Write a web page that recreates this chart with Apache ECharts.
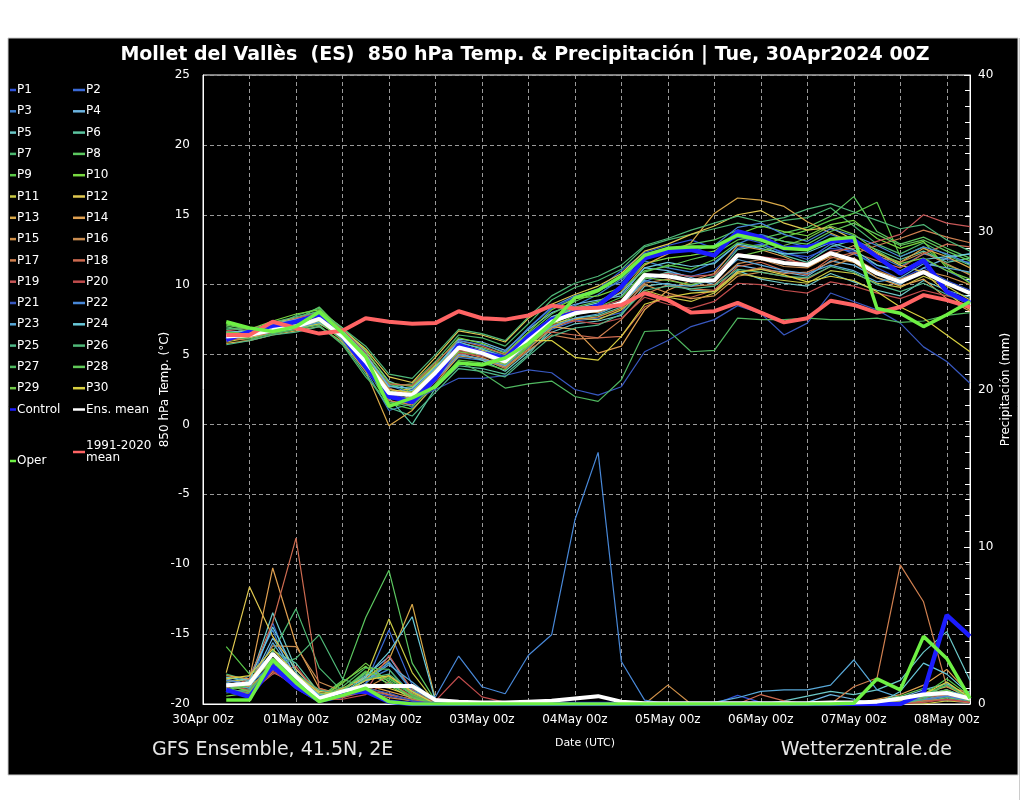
<!DOCTYPE html>
<html><head><meta charset="utf-8">
<script src="https://cdn.jsdelivr.net/npm/echarts@6/dist/echarts.min.js"></script>
<style>html,body{margin:0;padding:0;background:#fff;}#c{width:1024px;height:800px;}</style>
</head><body><div id="c"></div>
<script>
// ---- categories (6-hourly, 30Apr 00z .. 08May 06z) ----
const times = ['30Apr 00z','30Apr 06z','30Apr 12z','30Apr 18z',
 '01May 00z','01May 06z','01May 12z','01May 18z',
 '02May 00z','02May 06z','02May 12z','02May 18z',
 '03May 00z','03May 06z','03May 12z','03May 18z',
 '04May 00z','04May 06z','04May 12z','04May 18z',
 '05May 00z','05May 06z','05May 12z','05May 18z',
 '06May 00z','06May 06z','06May 12z','06May 18z',
 '07May 00z','07May 06z','07May 12z','07May 18z',
 '08May 00z','08May 06z'];
const tempTicks = [-20,-15,-10,-5,0,5,10,15,20,25];
const precTicks = [0,10,20,30,40];

// ---- 850 hPa temperature (°C), 30Apr 06z .. 08May 06z ----
const t01=[6.0,6.6,7.1,7.3,7.7,6.6,4.3,2.4,1.2,3.4,5.9,5.4,4.9,6.9,8.3,9.1,9.7,11.0,12.3,12.8,13.2,12.6,13.4,13.0,12.2,12.0,12.6,12.4,11.2,10.4,11.2,10.3,9.6];
const t02=[6.5,6.3,6.9,7.6,7.9,6.1,4.0,1.8,2.5,4.0,5.6,5.0,4.2,5.5,6.8,7.4,7.6,8.0,10.2,10.9,10.6,11.0,12.6,12.9,12.3,11.8,12.9,12.2,11.4,10.9,11.8,11.0,10.2];
const t03=[6.2,6.5,6.6,7.1,7.4,6.0,3.9,1.0,1.5,3.2,4.8,4.6,4.1,5.9,7.6,8.5,9.3,10.4,11.7,11.2,10.9,11.6,12.9,13.6,13.1,12.7,13.6,13.0,12.1,11.3,12.2,11.8,11.6];
const t04=[6.4,6.8,7.0,7.6,8.1,6.9,5.2,3.1,2.4,4.0,6.1,5.9,5.3,6.8,8.0,8.6,8.9,9.2,11.2,11.0,10.5,10.0,11.4,11.1,10.9,10.6,11.7,11.4,10.5,10.0,11.2,11.9,12.2];
const t05=[6.1,6.2,6.5,6.8,7.2,6.4,4.6,2.6,1.8,3.5,5.1,4.6,3.8,5.2,6.6,7.2,7.4,7.8,9.9,10.1,9.6,9.5,11.0,10.4,10.1,9.9,10.8,10.2,9.6,9.2,10.3,9.6,9.1];
const t06=[6.6,6.3,6.8,7.1,7.6,6.2,4.4,1.9,0.0,2.6,4.2,4.0,3.6,5.0,6.9,7.6,7.8,8.4,10.4,10.9,10.2,10.6,12.5,12.8,12.1,11.6,12.7,13.2,12.5,11.8,12.4,11.6,11.9];
const t07=[6.8,6.9,7.0,7.8,8.3,6.5,4.7,2.7,2.9,4.5,6.4,6.2,5.6,7.2,8.9,9.8,10.3,11.1,12.7,13.2,13.6,14.0,14.4,14.1,14.6,14.8,15.5,14.2,12.9,12.2,13.0,12.1,11.4];
const t08=[7.0,6.6,7.2,7.5,8.4,6.7,5.0,2.9,2.3,3.9,5.8,5.5,5.0,6.5,7.9,8.8,9.5,10.6,12.0,12.5,12.9,13.2,13.9,13.3,13.7,14.1,14.9,16.3,13.8,12.9,13.4,12.6,11.9];
const t09=[6.5,6.4,6.7,7.0,7.3,6.1,4.2,1.5,1.1,2.8,4.6,4.4,3.9,5.6,7.0,7.8,8.4,9.1,10.9,11.4,11.1,11.8,13.0,12.7,13.4,13.9,14.6,15.1,15.9,12.0,12.7,11.4,10.8];
const t10=[7.2,6.8,7.4,7.9,8.2,6.9,5.3,3.0,2.7,4.3,6.2,5.8,5.1,6.6,8.2,9.0,9.2,9.8,11.5,11.9,12.1,12.4,13.6,14.2,13.8,13.5,14.3,14.6,13.3,12.6,13.1,11.2,10.1];
const t11=[5.9,6.2,6.6,6.9,7.2,6.3,4.6,2.2,2.6,4.2,5.6,5.2,4.6,5.8,7.2,7.6,7.5,8.2,9.6,9.1,8.8,9.4,10.8,10.5,10.3,10.1,11.0,10.8,10.1,9.8,10.6,9.9,8.9];
const t12=[6.3,6.5,7.3,7.6,7.9,6.8,5.4,3.4,3.0,4.8,6.7,6.4,5.9,7.6,8.6,9.3,9.9,10.8,12.4,12.9,13.6,14.2,15.0,15.3,14.4,13.9,14.1,13.2,12.3,11.4,10.9,9.4,8.2];
const t13=[5.8,6.0,6.4,6.7,7.0,5.9,3.8,-0.1,1.0,2.9,4.9,4.7,4.3,5.7,7.3,8.0,8.5,9.5,11.4,12.2,13.0,15.1,16.2,16.05,15.6,14.5,13.7,13.0,12.2,11.6,12.6,12.0,11.2];
const t14=[6.0,6.3,6.6,6.9,7.4,6.2,4.9,2.5,2.2,3.8,5.4,5.0,4.4,5.7,7.0,6.8,5.1,5.6,8.2,9.6,10.3,10.8,12.8,12.5,12.0,11.3,12.0,11.6,10.5,9.9,10.4,9.0,8.1];
const t15=[6.2,6.0,6.7,7.1,7.6,6.5,4.3,2.0,1.9,3.5,5.2,4.8,4.1,5.4,6.9,7.5,7.7,8.3,10.0,9.4,9.0,9.2,10.6,10.9,10.6,10.4,11.3,11.9,11.0,10.4,11.0,10.6,10.0];
const t16=[6.1,6.4,6.9,7.4,7.8,6.4,4.5,2.3,2.0,3.7,5.5,5.3,4.8,6.1,7.7,8.2,8.0,8.6,10.1,10.4,9.9,10.0,11.5,11.8,11.3,11.2,12.1,12.8,12.0,11.6,12.3,11.5,10.7];
const t17=[6.3,6.7,6.9,7.2,7.7,6.6,4.6,1.7,1.4,3.1,5.0,4.7,4.0,5.3,6.4,6.1,6.2,7.5,9.3,10.0,9.7,9.6,10.9,11.2,10.8,10.9,11.6,12.2,12.8,13.3,13.9,13.4,13.0];
const t18=[6.5,6.8,7.0,7.3,7.6,6.3,4.8,2.9,2.8,4.4,6.0,5.6,5.0,6.4,6.6,6.4,6.2,6.3,8.4,9.2,9.1,9.6,11.3,11.6,11.0,10.7,11.9,12.3,11.7,11.2,12.2,12.9,12.7];
const t19=[6.7,6.9,7.1,7.6,8.0,6.8,5.1,2.6,2.0,3.6,5.3,5.0,4.6,6.0,7.4,8.1,8.4,8.9,10.6,10.8,10.6,10.7,12.2,12.0,11.8,11.5,12.4,12.6,13.1,13.6,15.0,14.4,14.15];
const t20=[6.0,6.3,6.6,7.0,7.5,6.1,4.2,2.1,1.7,3.3,5.1,4.9,4.4,5.9,7.1,7.4,7.2,7.6,9.1,8.6,8.3,8.8,10.1,10.0,9.6,9.4,10.2,9.9,9.4,9.0,9.6,9.2,8.8];
const t21=[6.1,6.6,6.8,7.1,7.6,6.0,4.0,2.3,1.7,2.5,3.3,3.3,3.5,3.9,3.7,2.5,2.1,2.7,5.2,6.0,7.0,7.5,8.5,7.95,6.4,7.25,9.4,8.8,8.2,7.25,5.55,4.5,2.95];
const t22=[6.4,6.5,6.9,7.3,7.9,6.6,4.9,2.8,2.2,3.9,6.0,5.7,5.2,6.9,8.4,9.2,9.6,10.2,12.2,12.6,12.4,12.8,14.1,14.4,13.6,13.1,14.0,13.5,12.8,12.0,12.7,12.2,11.5];
const t23=[6.2,6.4,6.6,6.9,7.3,6.2,4.4,1.9,1.6,3.2,5.0,4.7,4.2,5.8,7.0,7.6,7.9,8.6,10.3,10.0,9.9,10.4,11.8,11.4,11.0,10.8,11.4,11.0,10.2,10.5,11.5,11.2,10.9];
const t24=[6.6,6.7,7.2,7.5,7.8,6.7,5.0,2.7,2.6,4.1,5.9,5.4,4.8,6.3,7.7,8.3,8.7,9.4,11.2,11.6,11.3,11.5,12.9,12.6,12.2,12.3,13.0,12.5,11.4,11.0,11.8,12.0,12.2];
const t25=[5.7,6.0,6.4,6.6,7.0,5.8,3.6,1.2,0.6,2.3,4.0,3.8,3.4,4.9,6.3,6.9,7.1,7.9,9.6,9.9,9.7,9.9,11.1,10.9,10.6,10.5,11.3,10.9,10.0,9.5,10.1,9.3,8.6];
const t26=[6.9,6.7,7.3,7.7,8.1,6.9,5.6,3.6,3.3,5.0,6.8,6.5,6.0,7.7,9.2,10.1,10.6,11.4,12.8,13.3,13.9,14.4,14.9,14.5,14.8,15.4,15.8,15.2,14.6,14.0,14.3,13.2,12.4];
const t27=[6.3,6.1,6.5,6.8,7.1,5.7,3.4,1.6,1.3,2.9,4.5,3.7,2.6,2.9,3.1,2.0,1.65,3.2,6.65,6.75,5.2,5.3,7.6,7.5,7.5,7.6,7.5,7.5,7.6,7.3,7.4,7.8,8.0];
const t28=[7.1,6.8,7.2,7.4,7.9,6.6,4.8,2.4,2.0,3.7,5.6,5.3,4.7,6.2,7.6,8.4,8.8,9.7,11.0,11.3,11.8,12.2,13.2,13.5,13.1,12.9,13.8,14.4,13.6,12.8,13.2,12.4,11.7];
const t29=[6.6,6.5,7.0,7.2,7.4,6.0,4.1,1.4,1.8,3.4,5.2,5.0,4.3,5.6,7.2,7.9,8.1,8.8,10.5,10.3,10.0,10.4,12.0,12.4,12.8,13.3,14.2,13.6,12.4,11.5,11.9,11.0,10.4];
const t30=[6.1,6.3,6.8,7.0,7.5,6.4,4.7,2.5,2.3,3.9,5.7,5.3,4.6,6.0,6.0,4.8,4.6,6.3,8.6,9.1,9.4,9.5,10.9,11.1,10.7,10.2,10.6,10.3,9.5,8.4,7.6,6.4,5.2];
const tControl=[6.05,6.65,7.0,7.35,7.85,6.3,4.1,2.0,1.6,3.3,5.7,5.1,4.75,6.3,7.5,8.0,8.5,9.85,11.9,12.35,12.5,12.1,13.8,13.4,12.6,12.7,13.1,13.2,12.0,10.8,11.75,9.5,8.7];
const tMean=[6.3,6.4,6.75,7.0,7.55,6.3,4.5,2.25,2.1,3.7,5.5,5.1,4.5,6.0,7.35,7.95,8.2,8.7,10.7,10.6,10.3,10.3,12.1,11.9,11.55,11.4,12.25,11.75,10.8,10.2,10.9,10.1,9.4];
const tClim=[6.4,6.4,7.35,6.9,6.5,6.7,7.6,7.35,7.2,7.25,8.1,7.6,7.5,7.8,8.5,8.3,8.35,8.55,9.4,8.9,8.0,8.1,8.7,8.0,7.3,7.6,8.85,8.55,8.0,8.4,9.25,8.9,8.4];
const tOper=[7.35,6.9,6.65,7.0,8.05,6.55,4.85,1.3,1.9,2.7,4.4,4.25,4.75,5.8,7.25,9.05,9.6,10.6,12.1,12.6,12.7,12.7,13.55,13.2,12.6,12.5,13.25,13.4,8.3,7.95,7.0,7.85,8.8];

// ---- 6-hourly precipitation (mm), 30Apr 06z .. 08May 06z ----
const p01=[0.9,0.5,2.2,1.0,0.1,0.4,0.9,0.5,0.2,0, 0,0,0,0,0,0,0,0,0,0, 0,0,0.55,0.1,0,0,0,0,0,0.1, 0.2,0.4,0.1];
const p02=[1.3,1.0,5.15,1.5,0.2,0.5,1.3,4.7,1.2,0, 0,0,0,0,0,0,0,0,0,0, 0,0,0,0,0,0,0,0,0,0.2, 0.3,0.2,0.1];
const p03=[1.0,1.8,4.7,1.1,0.3,0.6,1.5,2.2,0.6,0, 0.1,0,0,0,0,0,0,0,0,0, 0,0,0,0,0,0,0,0,0,0, 0.2,0.5,0.2];
const p04=[1.6,1.2,4.2,1.8,0.5,0.9,1.8,3.0,0.9,0, 0,0,0,0,0,0,0,0,0,0, 0,0,0,0,0,0.1,0.6,0.3,0,0.4, 0.9,1.3,0.4];
const p05=[1.7,1.4,5.8,2.2,0.6,0.8,2.0,1.3,0.5,0, 0,0,0,0,0,0,0,0,0,0, 0,0,0,0,0.2,0.5,0.8,0.6,0.9,1.5, 3.3,4.6,1.5];
const p06=[1.1,0.9,3.4,2.6,0.7,0.4,1.6,2.6,1.0,0.1, 0,0,0,0,0,0,0,0,0,0, 0,0,0,0,0,0,0,0,0,0, 0.3,0.6,0.8];
const p07=[1.9,1.5,3.3,6.05,2.3,0.8,1.9,1.5,0.6,0, 0,0,0,0,0,0,0,0,0,0, 0,0,0,0,0,0,0,0,0,0.2, 0.5,1.2,0.3];
const p08=[1.2,1.0,2.5,1.5,0.4,1.5,5.5,8.5,2.6,0.2, 0,0,0,0,0,0,0,0,0,0, 0,0,0,0,0,0,0,0,0,0, 0.1,0.4,0.2];
const p09=[3.65,1.9,2.6,1.8,0.6,0.9,2.1,1.6,0.7,0.1, 0,0,0,0,0,0,0,0,0,0, 0,0,0,0,0,0,0,0,0,0.3, 0.6,1.6,0.5];
const p10=[0.5,0.7,2.9,1.2,0.3,1.4,2.4,1.2,0.3,0, 0,0,0,0,0,0,0,0,0,0, 0,0,0,0,0,0,0,0,0,0, 0.2,0.3,0.1];
const p11=[1.4,1.6,3.1,1.3,0.4,1.0,1.7,5.4,2.0,0.1, 0,0,0,0,0,0,0,0,0,0, 0,0,0,0,0,0,0,0,0,0, 0,0.2,0.1];
const p12=[2.0,7.45,4.3,2.2,0.8,0.7,1.3,1.0,0.5,0, 0,0,0,0,0,0,0,0,0,0, 0,0,0,0,0,0,0,0,0,0.2, 0.4,0.7,0.3];
const p13=[1.5,1.3,2.8,1.4,0.5,1.0,1.6,2.8,6.35,0.3, 0,0,0,0,0,0,0,0,0,0, 0,0,0,0,0,0,0,0,0,0.3, 0.7,1.1,0.4];
const p14=[1.8,1.6,8.65,3.8,1.0,0.6,1.2,0.8,0.4,0, 0,0,0,0,0,0,0,0,0,0, 0,0,0,0,0,0,0,0,0.3,0.6, 1.2,2.2,0.6];
const p15=[1.3,1.1,2.3,1.6,0.9,0.5,1.0,1.8,0.7,0, 0,0,0,0,0,0,0,0,0,1.2, 0,0,0,0,0,0,0,0,0,0, 0.3,0.5,0.2];
const p16=[1.1,1.4,3.7,3.65,1.4,0.8,1.1,0.6,0.3,0, 0,0,0,0,0,0,0,0,0,0, 0,0,0,0,0,0,0,0,0,0.3, 0.6,0.9,0.3];
const p17=[0.9,0.8,2.0,1.3,0.4,0.6,0.8,0.4,0.2,0, 0,0,0,0,0,0,0,0,0,0, 0,0,0,0,0,0,0,1.1,1.65,8.85, 6.5,1.1,0.7];
const p18=[1.0,1.6,5.2,10.55,1.0,0.5,0.9,0.6,0.3,0, 0,0,0,0,0,0,0,0,0,0, 0,0,0,0.6,0.2,0,0,0,0,0, 0.2,0.3,0.1];
const p19=[0.8,0.7,1.9,2.4,0.5,0.4,0.8,3.1,0.9,0, 0,0,0,0,0,0,0,0,0,0, 0,0,0,0,0,0,0,0,0,0.2, 0.4,0.6,0.2];
const p20=[1.2,0.9,2.1,1.1,0.3,0.3,0.6,1.4,0.5,0.2, 1.75,0.45,0.1,0,0,0,0,0,0,0, 0,0,0,0,0,0,0,0,0,0, 0.1,0.3,0.1];
const p21=[1.3,1.2,2.6,1.2,0.2,0.5,1.0,0.7,0.2,0, 0,0,0,0,0,0,0,0,0,0, 0,0,0,0,0,0,0,0,0,0.2, 0.5,0.8,0.3];
const p22=[1.5,1.3,2.4,1.4,0.4,0.6,1.3,2.7,0.8,0.45, 3.05,1.1,0.65,3.1,4.4,11.7,16.0,2.7,0.25,0, 0,0,0,0,0,0,0,0,0,0.1, 0.3,0.5,0.2];
const p23=[1.4,1.0,3.9,1.7,0.6,0.7,1.5,2.5,1.4,0.2, 0,0,0,0,0,0,0,0,0,0, 0,0.1,0.4,0.8,0.9,0.9,1.2,2.8,0.9,0.4, 0.6,0.9,0.4];
const p24=[1.7,1.5,4.9,2.0,0.5,0.7,1.7,3.3,5.55,0.2, 0,0,0,0,0,0,0,0,0,0, 0,0,0,0,0,0,0,0,0,0.8, 2.6,1.9,0.6];
const p25=[1.0,0.7,2.7,1.9,0.9,0.6,1.6,1.9,0.8,0, 0,0,0,0,0,0,0,0,0,0, 0,0,0,0,0,0,0,0,0,0.2, 0.4,0.7,0.3];
const p26=[0.7,0.9,2.4,2.9,4.4,1.6,1.0,1.3,0.4,0, 0,0,0,0,0,0,0,0,0,0, 0,0,0,0,0,0,0,0,0,0, 0.3,1.4,0.3];
const p27=[1.1,1.3,3.1,1.5,0.4,1.1,2.3,2.2,0.5,0, 0,0,0,0,0,0,0,0,0,0, 0,0,0,0,0,0,0,0,0,0.3, 0.6,1.2,0.4];
const p28=[0.9,1.2,2.9,1.6,0.5,0.9,2.0,1.7,0.6,0, 0,0,0,0,0,0,0,0,0,0, 0,0,0,0,0,0,0,0,0.2,0.5, 1.0,0.7,0.2];
const p29=[1.2,0.8,2.3,1.0,0.3,1.3,2.6,1.4,0.4,0, 0,0,0,0,0,0,0,0,0,0, 0,0,0,0,0,0,0,0,0,0.1, 0.5,0.9,0.2];
const p30=[1.6,1.8,3.5,1.9,0.7,0.7,1.5,1.8,0.8,0, 0,0,0,0,0,0,0,0,0,0, 0,0,0,0,0,0,0,0,0,0.2, 0.6,1.4,0.4];
const pControl=[0.9,0.45,2.4,1.1,0.25,0.7,0.8,0.15,0,0, 0,0,0,0,0,0,0,0,0,0, 0,0,0,0,0,0,0,0,0,0, 0.7,5.65,4.3];
const pMean=[1.2,1.3,3.2,1.75,0.35,0.8,1.15,1.15,1.15,0.25, 0.15,0.1,0.1,0.15,0.2,0.35,0.5,0.15,0.05,0.05, 0.05,0.05,0.05,0.05,0.05,0.05,0.1,0.1,0.15,0.35, 0.6,0.7,0.35];
const pOper=[0.25,0.25,2.8,1.35,0.15,0.55,1.0,0.15,0,0, 0,0,0,0,0,0,0,0,0,0, 0,0,0,0,0,0,0,0.05,1.6,0.9, 4.3,2.9,0.35];

const memberNames=['P1','P2','P3','P4','P5','P6','P7','P8','P9','P10','P11','P12','P13','P14','P15','P16','P17','P18','P19','P20','P21','P22','P23','P24','P25','P26','P27','P28','P29','P30'];
const memberColors=['#2f52d8','#3a6ad6','#3f80cf','#6cb4e0','#6cc8c8','#5cc4a0','#4cb870','#5cc860','#5ac848','#78d840',
 '#c8c844','#e0c850','#d8a848','#e0a050','#d09048','#c88c50','#d08050','#cc6a50','#c85858','#c04c4c',
 '#3858c0','#4888d8','#58a8d8','#68c8d8','#50b888','#50b878','#50b860','#60c858','#70c848','#d8d040'];
const memberTemps=[t01,t02,t03,t04,t05,t06,t07,t08,t09,t10,t11,t12,t13,t14,t15,t16,t17,t18,t19,t20,t21,t22,t23,t24,t25,t26,t27,t28,t29,t30];
const memberPrecs=[p01,p02,p03,p04,p05,p06,p07,p08,p09,p10,p11,p12,p13,p14,p15,p16,p17,p18,p19,p20,p21,p22,p23,p24,p25,p26,p27,p28,p29,p30];

const FONT='DejaVu Sans';
const pad = a => ['-'].concat(a);
function line(name, data, color, width, axis, z){
  return {name, type:'line', data:pad(data), yAxisIndex:axis, symbol:'none', silent:true,
    lineStyle:{color, width}, itemStyle:{color}, z:z||2};
}
const series=[];
memberNames.forEach((n,i)=>{
  series.push(line(n, memberTemps[i], memberColors[i], 1.2, 0, 2));
  series.push(line(n, memberPrecs[i], memberColors[i], 1.2, 1, 2));
});
const CLIM='1991-2020\nmean';
series.push(line('Control', tControl, '#1c1cff', 4.5, 0, 3));
series.push(line('Control', pControl, '#1c1cff', 4.5, 1, 3));
series.push(line('Ens. mean', tMean, '#ffffff', 4, 0, 4));
series.push(line('Ens. mean', pMean, '#ffffff', 4, 1, 4));
series.push(line(CLIM, tClim, '#ff6464', 4, 0, 5));
series.push(line('Oper', tOper, '#6ef044', 3.5, 0, 6));
series.push(line('Oper', pOper, '#6ef044', 3.5, 1, 6));

const legText={color:'#fff', fontSize:12, fontFamily:FONT, lineHeight:14, padding:[0,0,0,-4]};
const odd=memberNames.filter((n,i)=>i%2===0).concat(['Control']);
const even=memberNames.filter((n,i)=>i%2===1).concat(['Ens. mean']);
const legBase={orient:'vertical', icon:'rect', itemHeight:2.5, itemGap:7.3, padding:0, textStyle:legText, selectedMode:false};

const chart=echarts.init(document.getElementById('c'));
chart.setOption({
  animation:false,
  backgroundColor:'#ffffff',
  textStyle:{fontFamily:FONT},
  grid:{left:203, right:54, top:75, bottom:96, show:true, borderColor:'#ffffff', borderWidth:1, backgroundColor:'transparent'},
  legend:[
    Object.assign({}, legBase, {data:odd, left:10, top:83, itemWidth:6}),
    Object.assign({}, legBase, {data:even, left:73, top:83, itemWidth:12}),
    Object.assign({}, legBase, {data:[CLIM], left:73, top:440, itemWidth:12, textStyle:{color:'#fff', fontSize:12, fontFamily:FONT, lineHeight:12, padding:[0,0,0,-4]}}),
    Object.assign({}, legBase, {data:['Oper'], left:10, top:454, itemWidth:6})
  ],
  xAxis:{type:'category', data:times, boundaryGap:false,
    axisLine:{onZero:false, lineStyle:{color:'#ffffff'}}, axisTick:{show:false},
    axisLabel:{color:'#ffffff', fontSize:12, margin:10, interval:(i)=>i%4===0, formatter:v=>v},
    splitLine:{show:true, interval:(i)=>i%2===0, lineStyle:{color:'#9a9a9a', type:[4,3], width:1}}},
  yAxis:[
    {type:'value', min:tempTicks[0], max:tempTicks[tempTicks.length-1], interval:5, position:'left',
     name:'850 hPa Temp. (°C)', nameLocation:'middle', nameGap:32, nameRotate:90, nameMoveOverlap:false,
     nameTextStyle:{color:'#ffffff', fontSize:12, fontFamily:FONT},
     axisLine:{show:true, onZero:false, lineStyle:{color:'#ffffff'}}, axisTick:{show:false},
     axisLabel:{color:'#ffffff', fontSize:12, margin:13},
     splitLine:{show:true, lineStyle:{color:'#9a9a9a', type:[4,3], width:1}}},
    {type:'value', min:precTicks[0], max:precTicks[precTicks.length-1], interval:10, position:'right',
     name:'Precipitación (mm)', nameLocation:'middle', nameGap:30, nameRotate:90, nameMoveOverlap:false,
     nameTextStyle:{color:'#ffffff', fontSize:12, fontFamily:FONT},
     axisLine:{show:true, onZero:false, lineStyle:{color:'#ffffff'}},
     axisTick:{show:true, inside:true, length:6, lineStyle:{color:'#ffffff'}},
     minorTick:{show:true, splitNumber:10, length:5, lineStyle:{color:'#ffffff'}},
     axisLabel:{color:'#ffffff', fontSize:12, margin:8},
     splitLine:{show:false}}
  ],
  graphic:[
    {type:'rect', z:-10, silent:true, shape:{x:8, y:38, width:1010, height:737}, style:{fill:'#000000', stroke:'#cccccc', lineWidth:1}},
    {type:'line', z:-10, silent:true, shape:{x1:1019.5, y1:38, x2:1019.5, y2:800}, style:{stroke:'#cccccc', lineWidth:1}},
    {type:'text', silent:true, x:525, y:55, style:{text:'Mollet del Vallès  (ES)  850 hPa Temp. & Precipitación | Tue, 30Apr2024 00Z', fill:'#ffffff', font:'bold 19px "DejaVu Sans"', textAlign:'center', textVerticalAlign:'middle'}},
    {type:'text', silent:true, x:585, y:743, style:{text:'Date (UTC)', fill:'#ffffff', font:'11px "DejaVu Sans"', textAlign:'center', textVerticalAlign:'middle'}},
    {type:'text', silent:true, x:152, y:750, style:{text:'GFS Ensemble, 41.5N, 2E', fill:'#e6e6e6', font:'19px "DejaVu Sans"', textAlign:'left', textVerticalAlign:'middle'}},
    {type:'text', silent:true, x:952, y:750, style:{text:'Wetterzentrale.de', fill:'#e6e6e6', font:'19px "DejaVu Sans"', textAlign:'right', textVerticalAlign:'middle'}}
  ],
  series
});
</script></body></html>
